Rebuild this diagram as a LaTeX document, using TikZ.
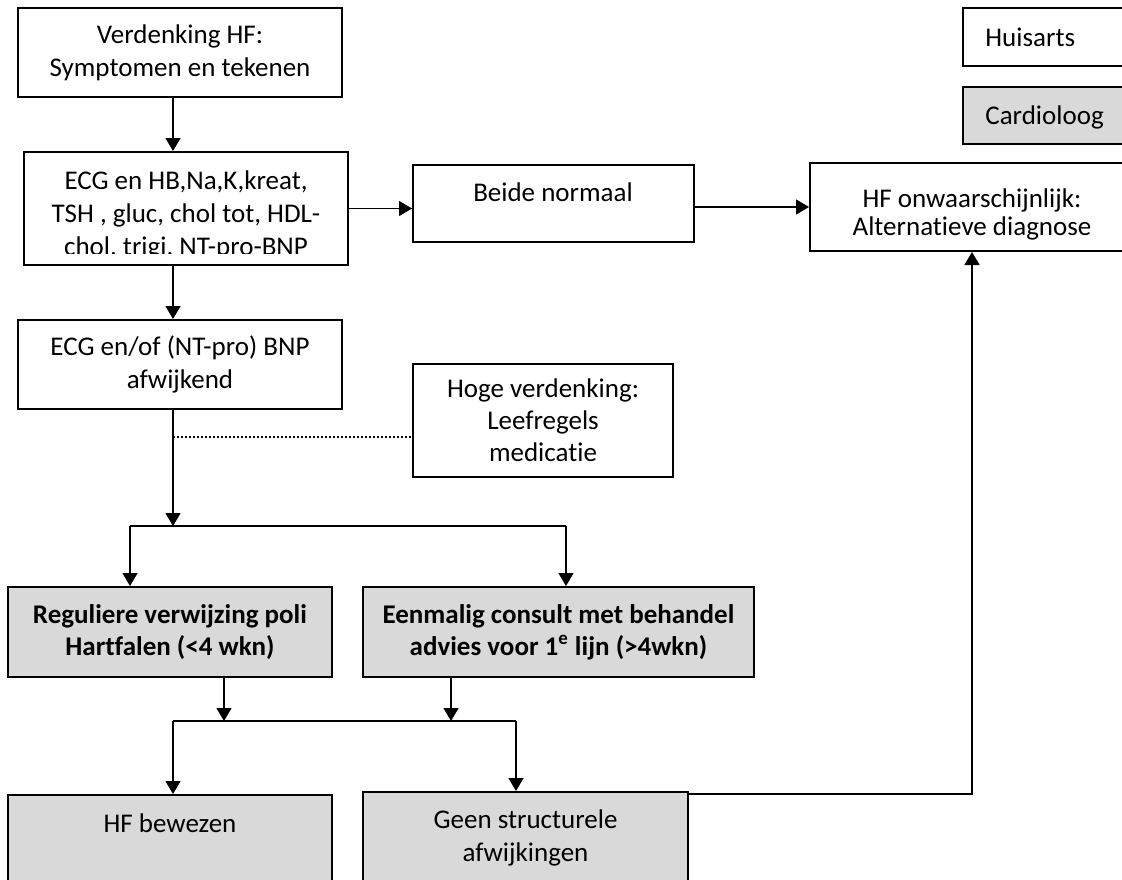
\documentclass[tikz,border=0pt]{standalone}
\usepackage{fontspec}
\setmainfont[RawFeature={-liga}]{Carlito}
\usetikzlibrary{arrows.meta,calc}
\definecolor{boxgray}{HTML}{D9D9D9}
\begin{document}
\begin{tikzpicture}[x=0.5pt,y=-0.5pt,
  box/.style={draw, line width=1pt, rectangle, inner sep=0pt},
  graybox/.style={box, fill=boxgray},
  txt/.style={align=center, inner sep=0pt, font=\fontsize{13.5pt}{16.5pt}\selectfont},
  btxt/.style={txt, font=\fontsize{13.5pt}{16pt}\selectfont\bfseries},
  conn/.style={line width=0.7pt},
  arr/.style={conn, -{Triangle[width=7.5pt,length=6.5pt]}},
  dotline/.style={line width=0.6pt, dash pattern=on 1pt off 1pt}]
\fill[white] (0,0) rectangle (1122,879);
\useasboundingbox (0,0) rectangle (1122,879);

% legend
\node[box, minimum width=88.5pt, minimum height=29pt] (huis) at (1051.5,37) {};
\node[txt, anchor=west] (thuis) at (985,37) {Huisarts};
\node[graybox, minimum width=88.5pt, minimum height=28.5pt] (card) at (1051.5,115.5) {};
\node[txt, anchor=west] (tcard) at (985,117) {Cardioloog};

% boxes
\node[box, minimum width=162pt, minimum height=44.5pt, txt] (b1) at (180,52.5) {Verdenking HF:\\Symptomen en tekenen};
\node[box, minimum width=162pt, minimum height=56.5pt] (b2) at (186,208.5) {};
\begin{scope}
\clip (24,152) rectangle (348,253);
\node[txt] (t2) at (186,215) {ECG en HB,Na,K,kreat,\\TSH , gluc, chol tot, HDL-\\chol, trigi, NT-pro-BNP};
\end{scope}
\node[box, minimum width=140.5pt, minimum height=38.5pt] (beide) at (553.5,203.5) {};
\node[txt] (tbeide) at (553,192) {Beide normaal};
\node[box, minimum width=162pt, minimum height=44pt] (hfo) at (972,207) {};
\node[txt, font=\fontsize{13.5pt}{14pt}\selectfont] (thfo) at (972,214) {HF onwaarschijnlijk:\\Alternatieve diagnose};
\node[box, minimum width=162pt, minimum height=44.5pt, txt] (b3) at (180,364.5) {ECG en/of (NT-pro) BNP\\afwijkend};
\node[box, minimum width=130pt, minimum height=56.5pt, txt, font=\fontsize{13.5pt}{16pt}\selectfont] (hoge) at (543,420.5) {Hoge verdenking:\\Leefregels\\medicatie};
\node[graybox, minimum width=162pt, minimum height=45pt, btxt] (b4) at (170,632) {Reguliere verwijzing poli\\Hartfalen (<4 wkn)};
\node[graybox, minimum width=195.5pt, minimum height=45pt, btxt] (b5) at (558.5,632) {Eenmalig consult met behandel\\advies voor 1\textsuperscript{e} lijn (>4wkn)};
\node[graybox, minimum width=162pt, minimum height=52.5pt] (hfb) at (170,847.5) {};
\node[txt] (thfb) at (170,823) {HF bewezen};
\node[graybox, minimum width=162.5pt, minimum height=54pt] (geen) at (525.5,846) {};
\node[txt] (tgeen) at (525.5,838) {Geen structurele\\afwijkingen};

% helper coordinates
\coordinate (xa) at (173,0);
\coordinate (j1) at (173,526);
\coordinate (sL) at (130,526);
\coordinate (sR) at (566,526);
\coordinate (d1) at (173,437);
\coordinate (m1) at (224,721);
\coordinate (m2) at (451,721);
\coordinate (mL) at (173,721);
\coordinate (mR) at (516,721);

% connectors
\draw[arr] (b1.south -| xa) -- (b2.north -| xa);
\draw[arr] (b2.east) -- (b2.east -| beide.west);
\draw[arr] (beide.east |- hfo.west) -- (hfo.west);
\draw[arr] (b2.south -| xa) -- (b3.north -| xa);
\draw[arr] (b3.south -| xa) -- (j1);
\draw[dotline] (d1) -- (d1 -| hoge.west);
\draw[conn] (sL) -- (sR);
\draw[arr] (sL) -- (sL |- b4.north);
\draw[arr] (sR) -- (sR |- b5.north);
\draw[arr] (b4.south -| m1) -- (m1);
\draw[arr] (b5.south -| m2) -- (m2);
\draw[conn] (mL) -- (mR);
\draw[arr] (mL) -- (mL |- hfb.north);
\draw[arr] (mR) -- (mR |- geen.north);
\draw[arr] ($(geen.north east)+(0,3)$) -| (hfo.south);
\end{tikzpicture}
\end{document}
